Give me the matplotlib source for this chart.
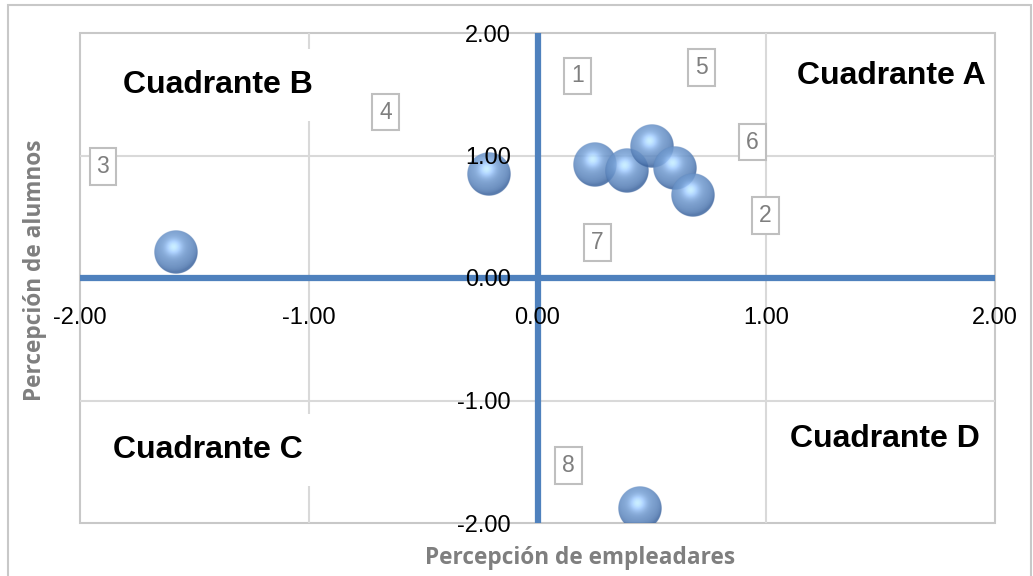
import numpy as np
import matplotlib.pyplot as plt
from matplotlib.patches import Rectangle

# percepción de empleadores (x) y de alumnos (y) para cada ítem
items = ['1', '2', '3', '4', '5', '6', '7', '8']
empleadores = [0.25, 0.68, -1.58, -0.21, 0.50, 0.60, 0.39, 0.45]
alumnos = [0.92, 0.68, 0.21, 0.85, 1.08, 0.90, 0.87, -1.88]

ticks = [-2.0, -1.0, 0.0, 1.0, 2.0]
cuadrantes = ['Cuadrante A', 'Cuadrante B', 'Cuadrante C', 'Cuadrante D']

# posición de las etiquetas y de los textos de cuadrante (coordenadas de datos)
pos_etiquetas = [(0.175, 1.65), (0.996, 0.51), (-1.90, 0.91), (-0.664, 1.355),
                 (0.716, 1.72), (0.939, 1.11), (0.262, 0.29), (0.135, -1.53)]
pos_cuadrantes = [(1.545, 1.65), (-1.397, 1.575), (-1.441, -1.404), (1.52, -1.314)]
pad_cuadrantes = [0.15, 0.65, 0.65, 0.15]

azul = '#4f81bd'
gris_rejilla = '#d9d9d9'
gris_texto = '#7f7f7f'


def esfera(n=120):
    """Imagen RGBA de una burbuja sombreada (efecto 3D)."""
    u = np.linspace(-1, 1, n)
    X, Y = np.meshgrid(u, -u)
    r = np.sqrt(X**2 + Y**2)
    z = np.sqrt(np.clip(1 - r**2, 0, 1))
    luz = np.array([-0.2, 0.45, 0.87])
    luz = luz / np.linalg.norm(luz)
    difusa = np.clip(X * luz[0] + Y * luz[1] + z * luz[2], 0, 1)
    h = luz + np.array([0, 0, 1.0])
    h = h / np.linalg.norm(h)
    brillo = np.clip(X * h[0] + Y * h[1] + z * h[2], 0, 1) ** 14
    oscuro = np.array([62, 102, 160]) / 255
    claro = np.array([118, 160, 212]) / 255
    col = oscuro + (claro - oscuro) * difusa[..., None] ** 0.7
    col = col + 0.3 * brillo[..., None]
    img = np.zeros((n, n, 4))
    img[..., :3] = np.clip(col, 0, 1)
    img[..., 3] = 0.86 * np.clip((1 - r) * n / 2, 0, 1)
    return img


fig = plt.figure(figsize=(10.33, 5.76), dpi=100)
ax = fig.add_axes([80 / 1033, 1 - 523 / 576, 915 / 1033, 490 / 576])
ax.set_xlim(-2, 2)
ax.set_ylim(-2, 2)

# marco exterior del gráfico
fig.patches.append(Rectangle((8 / 1033, -0.1), 1023 / 1033, 1.1 - 5 / 576,
                             transform=fig.transFigure, fill=False,
                             ec='#c8c8c8', lw=1.5))

# marco del área de trazado y rejilla
ax.add_patch(Rectangle((0, 0), 1, 1, transform=ax.transAxes, fill=False,
                       ec='#c8c8c8', lw=1.5, zorder=1, clip_on=False))
for t in ticks:
    if t not in (-2.0, 0.0, 2.0):
        ax.axvline(t, color=gris_rejilla, lw=1.5, zorder=1)
        ax.axhline(t, color=gris_rejilla, lw=1.5, zorder=1)

# ejes en cero
ax.axhline(0, color=azul, lw=4.5, zorder=2)
ax.axvline(0, color=azul, lw=4.5, zorder=2)

for s in ax.spines.values():
    s.set_color('none')
ax.spines['bottom'].set_position(('data', 0))
ax.spines['left'].set_position(('data', 0))
ax.set_xticks(ticks)
ax.set_yticks(ticks)
ax.set_xticklabels([f'{t:.2f}' for t in ticks])
ax.set_yticklabels([f'{t:.2f}' for t in ticks])
ax.tick_params(length=0, labelsize=17)
ax.tick_params(axis='x', pad=21)
ax.tick_params(axis='y', pad=19)
for lab in ax.get_xticklabels() + ax.get_yticklabels():
    lab.set_fontfamily('Liberation Sans')
ax.xaxis.set_zorder(6)
ax.yaxis.set_zorder(6)

# burbujas
img = esfera()
rx = 22 * 4 / ax.bbox.width
ry = 22 * 4 / ax.bbox.height
orden = np.argsort(empleadores)
for i in orden:
    x, y = empleadores[i], alumnos[i]
    ax.imshow(img, extent=(x - rx, x + rx, y - ry, y + ry), aspect='auto',
              zorder=4, interpolation='antialiased')
ax.set_xlim(-2, 2)
ax.set_ylim(-2, 2)

# etiquetas de los ítems
for nombre, (lx, ly) in zip(items, pos_etiquetas):
    ax.text(lx, ly, nombre, ha='center', va='center', fontsize=16.5,
            color=gris_texto, family='Liberation Sans', zorder=5,
            bbox=dict(boxstyle='square,pad=0.3', fc='white', ec='#bfbfbf', lw=1.5))

# textos de cuadrante
for nombre, (cx, cy), p in zip(cuadrantes, pos_cuadrantes, pad_cuadrantes):
    ax.text(cx, cy, nombre, ha='center', va='center', fontsize=23,
            fontweight='bold', family='Liberation Sans', color='black', zorder=3,
            bbox=dict(boxstyle=f'square,pad={p}', fc='white', ec='none'))

# títulos de los ejes
fig.text(580 / 1033, 1 - 558 / 576, 'Percepción de empleadares', ha='center',
         va='center', fontsize=16.3, fontweight='bold', color=gris_texto,
         family='Open Sans')
fig.text(35 / 1033, 1 - 270 / 576, 'Percepción de alumnos', ha='center',
         va='center', rotation=90, fontsize=16.3, fontweight='bold',
         color=gris_texto, family='Open Sans')

fig.savefig('out.png', dpi=100)
